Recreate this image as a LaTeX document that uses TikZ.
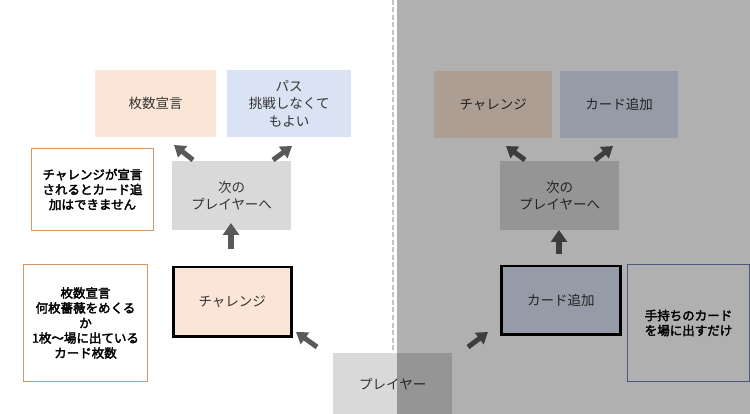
\documentclass[tikz,border=0pt]{standalone}
\usepackage{fontspec}
\setmainfont{Noto Sans CJK JP}
\newfontfamily\jpbold[FakeBold=2.5]{Noto Sans CJK JP}
\usetikzlibrary{arrows.meta}
\definecolor{peach}{HTML}{FBE5D6}
\definecolor{paleblue}{HTML}{DAE3F3}
\definecolor{lgray}{HTML}{D9D9D9}
\definecolor{arrgray}{HTML}{595959}
\definecolor{txtgray}{HTML}{333333}
\definecolor{orangeline}{RGB}{214,150,100}
\definecolor{blueline}{RGB}{110,130,178}
\definecolor{dashgray}{HTML}{C4C4C4}
\tikzset{
  box/.style={rectangle, anchor=north west, inner sep=0pt, align=center,
    font=\fontsize{13.5}{17.5}\selectfont, text=txtgray},
  notebox/.style={rectangle, anchor=north west, inner sep=0pt, align=center,
    font=\jpbold\fontsize{12.5}{15}\selectfont, text=black, line width=1pt},
  arr/.style={draw=arrgray, line width=6pt, -{Triangle[width=16pt,length=12pt]}},
  darr/.style={draw=arrgray, line width=5pt, -{Triangle[width=14pt,length=11pt]}},
}
\begin{document}
\begin{tikzpicture}[x=1pt,y=-1pt]
\useasboundingbox (0,0) rectangle (750,414);
\fill[white] (0,0) rectangle (750,414);
% dashed divider
\draw[dashgray, line width=2pt, dash pattern=on 5pt off 2.5pt] (393,0) -- (393,414);
% left side
\node[box, fill=peach, minimum width=121pt, minimum height=67pt] (decl) at (95,70) {枚数宣言};
\node[box, fill=paleblue, minimum width=124pt, minimum height=67pt] (pass) at (227,70) {パス\\挑戦しなくて\\もよい};
\node[notebox, draw=orangeline, minimum width=122pt, minimum height=82pt] (noteA) at (31,148) {チャレンジが宣言\\されるとカード追\\加はできません};
\node[box, fill=lgray, minimum width=119pt, minimum height=69pt] (nextL) at (172,161) {次の\\プレイヤーへ};
\node[notebox, draw=orangeline, minimum width=124pt, minimum height=117pt] (noteB) at (23,264) {枚数宣言\\何枚薔薇をめくる\\か\\1枚～場に出ている\\カード枚数};
\node[box, fill=peach, draw=black, line width=2.5pt, minimum width=118pt, minimum height=69pt] (chalL) at (172,266) {チャレンジ};
% player
\node[box, fill=lgray, minimum width=119pt, minimum height=62pt] (player) at (333,353) {プレイヤー};
% right side
\node[box, fill=peach, minimum width=118pt, minimum height=67pt] (chalR) at (434,71) {チャレンジ};
\node[box, fill=paleblue, minimum width=118pt, minimum height=67pt] (addR) at (560,71) {カード追加};
\node[box, fill=lgray, minimum width=119pt, minimum height=69pt] (nextR) at (500,161) {次の\\プレイヤーへ};
\node[box, fill=paleblue, draw=black, line width=2.5pt, minimum width=119pt, minimum height=68pt] (addB) at (500,265) {カード追加};
\node[notebox, draw=blueline, minimum width=122pt, minimum height=117pt] (noteC) at (627,264) {手持ちのカード\\を場に出すだけ};
% arrows left
\coordinate (l1s) at (193,160); \coordinate (l1e) at (174,145);
\coordinate (l2s) at (273,160); \coordinate (l2e) at (292,146);
\coordinate (l3s) at (231,249); \coordinate (l3e) at (231,223);
\coordinate (l4s) at (317,347); \coordinate (l4e) at (296,332);
\draw[darr] (l1s) -- (l1e);
\draw[darr] (l2s) -- (l2e);
\draw[arr] (l3s) -- (l3e);
\draw[darr] (l4s) -- (l4e);
% arrows right
\coordinate (r1s) at (525,160); \coordinate (r1e) at (506,146);
\coordinate (r2s) at (595,160); \coordinate (r2e) at (613,146);
\coordinate (r3s) at (559,254); \coordinate (r3e) at (559,230);
\coordinate (r4s) at (468,347); \coordinate (r4e) at (488,332);
\draw[darr] (r1s) -- (r1e);
\draw[darr] (r2s) -- (r2e);
\draw[arr] (r3s) -- (r3e);
\draw[darr] (r4s) -- (r4e);
% overlay
\fill[black, fill opacity=0.31] (397,0) rectangle (750,414);
\end{tikzpicture}
\end{document}
